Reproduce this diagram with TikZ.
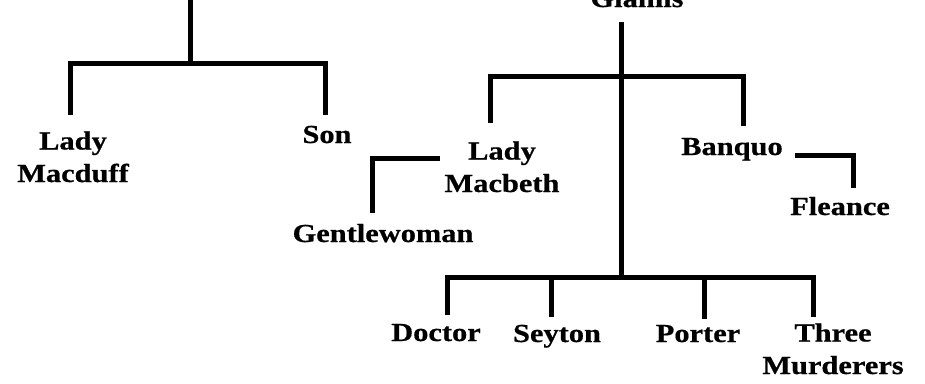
\documentclass[tikz,border=0pt]{standalone}
\usepackage{fontspec}
\setmainfont{Liberation Serif}[FakeStretch=1.17, BoldFeatures={FakeBold=0.6}]
\begin{document}
\begin{tikzpicture}[x=1pt,y=-1pt,
  lbl/.style={font=\fontsize{26}{32.5}\selectfont\bfseries, inner sep=0pt, align=center, anchor=base},
  tie/.style={line width=5pt, line join=miter}]
\useasboundingbox (0,0) rectangle (925,383);
\clip (0,0) rectangle (925,383);
% labels (base anchor = baseline of the last line)
\node[lbl] (fife)   at (195,-1)  {Fife};
\node[lbl] (glamis) at (637,7)   {Glamis};
\node[lbl] (lmd)    at (73,182)  {Lady\\Macduff};
\node[lbl] (son)    at (327,143) {Son};
\node[lbl] (lmb)    at (502,192) {Lady\\Macbeth};
\node[lbl] (ban)    at (732,155) {Banquo};
\node[lbl] (gent)   at (383,242) {Gentlewoman};
\node[lbl] (fle)    at (840,215) {Fleance};
\node[lbl] (doc)    at (436,341) {Doctor};
\node[lbl] (sey)    at (557,342) {Seyton};
\node[lbl] (por)    at (698,342) {Porter};
\node[lbl] (thr)    at (833,374) {Three\\Murderers};
% junction and end coordinates
\coordinate (L0) at (190,63);
\coordinate (dLmd) at (70,115);
\coordinate (dSon) at (325,115);
\coordinate (G0) at (621,22);
\coordinate (G1) at (621,76);
\coordinate (G2) at (621,277);
\coordinate (dLmb) at (490,123);
\coordinate (dBan) at (743,126);
\coordinate (cLmb) at (440,158);
\coordinate (dGent) at (372,213);
\coordinate (cBan) at (795,155);
\coordinate (dFle) at (853,188);
\coordinate (dDoc) at (447,315);
\coordinate (dSey) at (551,317);
\coordinate (dPor) at (704,319);
\coordinate (dThr) at (813,317);
% connectors
\draw[tie] (L0 |- 0,0) -- (L0);
\draw[tie] (dLmd) |- (L0) -| (dSon);
\draw[tie] (G0) -- (G2);
\draw[tie] (dLmb) |- (G1) -| (dBan);
\draw[tie] (cLmb) -| (dGent);
\draw[tie] (cBan) -| (dFle);
\draw[tie] (dDoc) |- (G2) -| (dThr);
\draw[tie] (dSey |- G2) -- (dSey);
\draw[tie] (dPor |- G2) -- (dPor);
\end{tikzpicture}
\end{document}
